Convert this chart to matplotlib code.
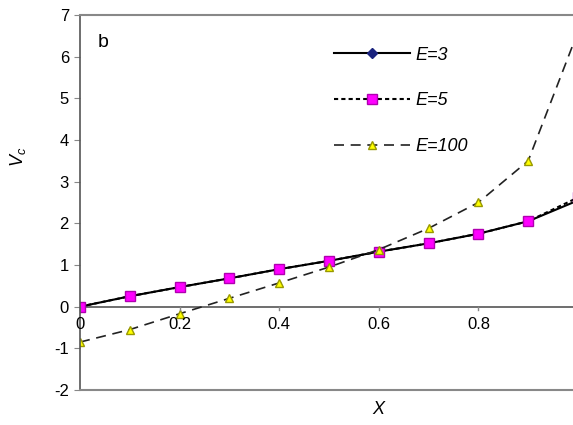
import numpy as np
import matplotlib
matplotlib.use("Agg")
from matplotlib import pyplot as plt

plt.rcParams['font.family'] = ['Liberation Sans', 'DejaVu Sans']
plt.rcParams['mathtext.fontset'] = 'custom'
plt.rcParams['mathtext.it'] = 'Liberation Sans:italic'
plt.rcParams['mathtext.rm'] = 'Liberation Sans'
plt.rcParams['axes.unicode_minus'] = False

# datos
x = [0.0, 0.1, 0.2, 0.3, 0.4, 0.5, 0.6, 0.7, 0.8, 0.9, 1.0]
v_e3 = [0.0, 0.25, 0.47, 0.68, 0.9, 1.1, 1.32, 1.52, 1.75, 2.05, 2.55]
v_e5 = [0.0, 0.25, 0.47, 0.68, 0.9, 1.1, 1.32, 1.52, 1.75, 2.05, 2.62]
v_e100 = [-0.85, -0.55, -0.17, 0.2, 0.57, 0.95, 1.37, 1.88, 2.5, 3.5, 6.6]
y_ticks = [-2, -1, 0, 1, 2, 3, 4, 5, 6, 7]
x_ticks = [0, 0.2, 0.4, 0.6, 0.8]
x_labels = ['0', '0.2', '0.4', '0.6', '0.8']


def main():
    fig = plt.figure(figsize=(5.73, 4.25), dpi=100)
    ax = fig.add_axes([80 / 573, 1 - 390 / 425, 1 - 80 / 573, 375 / 425])

    ax.plot(x, v_e3, '-', color='black', lw=1.5, marker='D', ms=5,
            mfc='#1a237e', mec='#1a237e', label='E=3')
    ax.plot(x, v_e5, color='black', lw=1.5, ls=(0, (2, 1.5)), marker='s', ms=7,
            mfc='#ff00ff', mec='#b000b0', label='E=5')
    ax.plot(x, v_e100, color='#222222', lw=1.2, ls=(0, (6, 4)), marker='^', ms=6,
            mfc='#ffff00', mec='#999900', label='E=100')

    ax.set_xlim(0, 0.99)
    ax.set_ylim(-2, 7)
    ax.set_yticks(y_ticks)
    ax.set_xticks(x_ticks)

    # eje x en y=0
    ax.axhline(0, color='#555555', lw=1.2, zorder=1)
    for s in ['top', 'bottom']:
        ax.spines[s].set_color('#888888')
        ax.spines[s].set_linewidth(1.5)
    ax.spines['right'].set_visible(False)
    ax.spines['left'].set_color('#555555')
    ax.spines['left'].set_linewidth(1.2)

    ax.tick_params(axis='y', direction='out', length=4, color='#888888',
                   labelsize=12, pad=4)
    ax.tick_params(axis='x', bottom=False, labelbottom=False)
    for xt, lab in zip(x_ticks, x_labels):
        ax.plot([xt, xt], [0, -0.08], color='#888888', lw=1, clip_on=False)
        ax.text(xt, -0.25, lab, ha='center', va='top', fontsize=12)

    ax.text(-0.125, 3.6, '$V_c$', fontsize=13, rotation=90, ha='center', va='center')
    ax.text(0.6, -2.48, 'X', ha='center', va='center', fontsize=13, style='italic')
    ax.text(0.035, 6.35, 'b', fontsize=14, ha='left', va='center')

    ax.legend(loc='upper left', bbox_to_anchor=(0.5, 0.935), frameon=False,
              handlelength=4.2, prop={'size': 13, 'style': 'italic'},
              labelspacing=1.6, handletextpad=0.3, borderaxespad=0)

    fig.savefig('out.png', dpi=100)


if __name__ == "__main__":
    main()
